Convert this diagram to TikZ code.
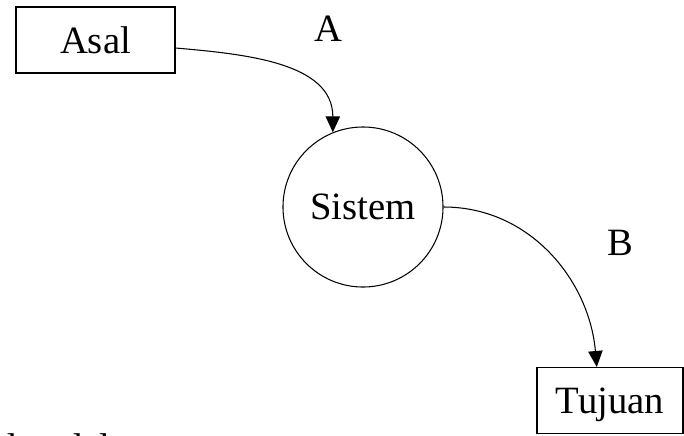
\documentclass[tikz,border=0pt]{standalone}
\usepackage{fontspec}
\setmainfont{Liberation Serif}
\usetikzlibrary{arrows.meta}

\tikzset{boite/.style = {draw, rectangle, minimum width = #1, minimum height = 1.65cm,
                         inner sep = 0pt, text depth = 0pt},
         boite/.default = 3.975cm,
         proses/.style = {draw, circle, minimum size = 4cm, inner sep = 0pt},
         aliran/.style = {-{Triangle[length = 0.4cm, width = 0.36cm]}}
        }

\begin{document}
\begin{tikzpicture}[x = 0.025cm, y = -0.025cm, line width = 0.75pt,
                    every node/.append style = {font = \fontsize{27.5}{33}\selectfont}]
  \useasboundingbox (0,0) rectangle (684,435);
  \node[boite] (asal) at (95.5,40) {Asal};
  \node[proses] (sistem) at (363,207) {Sistem};
  \node[boite = 3.65cm] (tujuan) at (610,400.5) {Tujuan};
  \node (A) at (328,29) {A};
  \node (B) at (620,243) {B};
  % baris teks terpotong di tepi bawah
  \node[anchor = base west] (teks) at (-7.5,460) {dan dalam};
  \draw[aliran] ([yshift = -0.2cm]asal.east) to[out = -5, in = 90] (sistem.112);
  \draw[aliran] (sistem.east) to[out = 0, in = 95] ([xshift = -0.33cm]tujuan.north);
\end{tikzpicture}
\end{document}
